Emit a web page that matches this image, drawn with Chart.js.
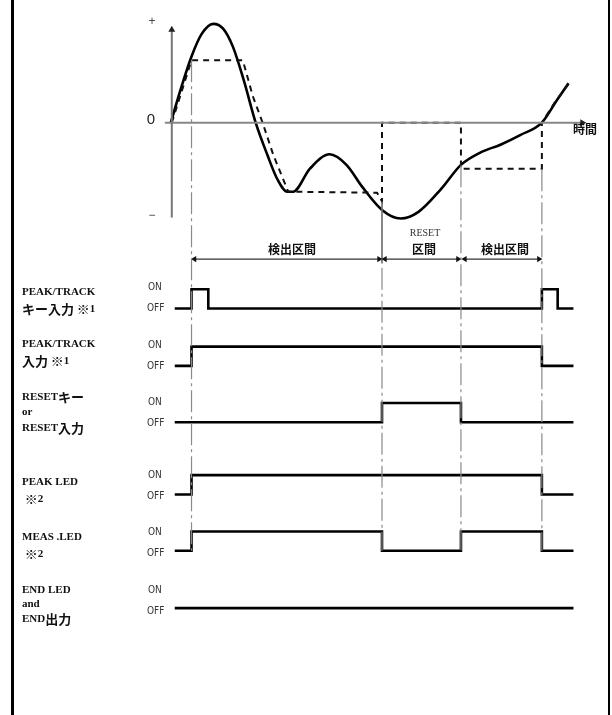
<!DOCTYPE html>
<html><head><meta charset="utf-8">
<script src="https://cdn.jsdelivr.net/npm/chart.js@4"></script>
<style>html,body{margin:0;padding:0;background:#fff}canvas{display:block}</style>
</head><body>
<canvas id="c" width="612" height="715"></canvas>
<script>
// ---------------- data ----------------
// time axis (arbitrary units); events where the timing lines are drawn
const eventTimes = [20, 213, 293, 375];
// measured waveform (solid curve)
const curveT = [-1, 10, 20, 30, 42, 52, 62, 73, 85, 97, 107, 117, 123, 140, 160, 177, 193, 213, 232, 250, 273, 293, 313, 333, 353, 375, 390, 402];
const curveV = [0, 38, 69, 92, 103, 98, 79, 44, 0, -34, -59, -72, -72, -48, -33, -44, -67, -91, -100, -93, -69, -44, -31, -23, -13, 0, 23, 41];
// held value (dashed line)
const holdT = [0, 20, 72, 82, 92, 103, 118, 208, 213, 213, 293, 293, 375, 375, 388, 404];
const holdV = [0, 65, 65, 28, 0, -34, -72, -73, -82, 0, 0, -48, -48, 0, 21, 43];
// interval labels
const intervalLabels = ["検出区間", "区間", "検出区間"];
// digital signals: transition times and levels (0 = OFF, 1 = ON)
const signalLabels = [
  ["PEAK/TRACK", "キー入力 ※1"],
  ["PEAK/TRACK", "入力 ※1"],
  ["RESETキー", "or", "RESET入力"],
  ["PEAK LED", " ※2"],
  ["MEAS .LED", " ※2"],
  ["END LED", "and", "END出力"]
];
const sigPeakKeyT = [3, 20, 37, 375, 391, 407];
const sigPeakKeyL = [0, 1, 0, 1, 0, 0];
const sigPeakInT = [3, 20, 375, 407];
const sigPeakInL = [0, 1, 0, 0];
const sigResetT = [3, 213, 293, 407];
const sigResetL = [0, 1, 0, 0];
const sigPeakLedT = [3, 20, 375, 407];
const sigPeakLedL = [0, 1, 0, 0];
const sigMeasLedT = [3, 20, 213, 293, 375, 407];
const sigMeasLedL = [0, 1, 0, 1, 0, 0];
const sigEndT = [3, 407];
const sigEndL = [0, 0];
const signals = [
  [sigPeakKeyT, sigPeakKeyL], [sigPeakInT, sigPeakInL], [sigResetT, sigResetL],
  [sigPeakLedT, sigPeakLedL], [sigMeasLedT, sigMeasLedL], [sigEndT, sigEndL]
];

// ---------------- layout (pixels) ----------------
const W = 612, H = 715;
const X0 = 170;              // pixel of time 0
const ZERO_Y = 120, PX_PER_UNIT = 0.97;
const laneOffY = [308, 366, 423, 496, 553, 611];
const laneLabelY = [[292, 309], [344, 361], [397, 412, 428], [482, 499], [537, 554], [590, 604, 619]];
const LANE_H = 19.5;
const eventLineTop = [57, 200, 163, 167];
const eventLineBottom = [553, 553, 553, 553];

const pts = (xs, ys) => xs.map((x, i) => ({x, y: ys[i]}));

const scales = {
  x: {type: 'linear', min: -X0, max: W - X0, display: false},
  yPx: {type: 'linear', min: 0, max: H, reverse: true, display: false},
  yW: {type: 'linear', min: -(H - ZERO_Y) / PX_PER_UNIT, max: ZERO_Y / PX_PER_UNIT, display: false}
};
laneOffY.forEach((off, i) => {
  scales['L' + i] = {type: 'linear', min: -(H - off) / LANE_H, max: off / LANE_H, display: false};
});

const datasets = [];
// event (dash-dot) lines
eventTimes.forEach((t, i) => {
  datasets.push({data: [{x: t, y: eventLineTop[i]}, {x: t, y: eventLineBottom[i]}], yAxisID: 'yPx',
    borderColor: '#8a8a8a', borderWidth: 1.2, borderDash: [22, 4, 3, 4], pointRadius: 0, tension: 0});
});
// solid part of RESET boundary
datasets.push({data: [{x: eventTimes[1], y: 200}, {x: eventTimes[1], y: 262}], yAxisID: 'yPx',
  borderColor: '#333', borderWidth: 1.2, pointRadius: 0});
// y axis with arrow
datasets.push({data: [{x: 0, y: 216}, {x: 0, y: 26}], yAxisID: 'yPx', borderColor: '#777', borderWidth: 2,
  pointRadius: [0, 4], pointStyle: 'triangle', pointRotation: 0, pointBackgroundColor: '#222', pointBorderWidth: 0});
// time axis (zero line) with arrow
datasets.push({data: [{x: -7, y: 0}, {x: 416, y: 0}], yAxisID: 'yW', borderColor: '#888', borderWidth: 2,
  pointRadius: [0, 4], pointStyle: 'triangle', pointRotation: 90, pointBackgroundColor: '#222', pointBorderWidth: 0});
// hold line
datasets.push({data: pts(holdT, holdV), yAxisID: 'yW', borderColor: '#111', borderWidth: 2,
  borderDash: [6, 5], pointRadius: 0, tension: 0});
// waveform
datasets.push({data: pts(curveT, curveV), yAxisID: 'yW', borderColor: '#000', borderWidth: 2.6,
  pointRadius: 0, cubicInterpolationMode: 'monotone'});
// interval arrows
const arrowSpans = [[eventTimes[0] + 3, eventTimes[1] - 3], [eventTimes[1] + 3, eventTimes[2] - 3], [eventTimes[2] + 4, eventTimes[3] - 3]];
arrowSpans.forEach(([a, b]) => {
  datasets.push({data: [{x: a, y: 258}, {x: b, y: 258}], yAxisID: 'yPx', borderColor: '#333', borderWidth: 1.3,
    pointRadius: 3.5, pointStyle: 'triangle', pointRotation: [-90, 90], pointBackgroundColor: '#111',
    pointBorderColor: '#111', pointBorderWidth: 0});
});
// signals
signals.forEach(([ts, ls], i) => {
  datasets.push({data: pts(ts, ls), yAxisID: 'L' + i, stepped: 'before', borderColor: '#000',
    borderWidth: 2.6, pointRadius: 0});
});

const LAT = "bold 11px 'Liberation Serif', serif";
const CJK13 = "bold 13px 'Noto Sans CJK JP', sans-serif";
const CJK = "bold 12px 'Noto Sans CJK JP', sans-serif";
const ONOFF = "10px 'Liberation Sans Narrow', 'DejaVu Sans Condensed', sans-serif";

const textPlugin = {
  id: 'texts',
  afterDraw(chart) {
    const ctx = chart.ctx;
    ctx.save();
    ctx.textBaseline = 'middle';
    const put = (s, x, y, font, align, color) => {
      ctx.font = font; ctx.textAlign = align || 'left'; ctx.fillStyle = color || '#111';
      ctx.fillText(s, x, y);
    };
    // mixed Latin / CJK label, drawn run by run
    const putMixed = (s, x, y) => {
      const runs = s.match(/[\u3000-\u9fff\uff00-\uffef\u203b]+|[^\u3000-\u9fff\uff00-\uffef\u203b]+/g) || [];
      ctx.textAlign = 'left'; ctx.fillStyle = '#111';
      let cx = x;
      runs.forEach(r => {
        const cjk = /[\u3000-\u9fff\uff00-\uffef\u203b]/.test(r);
        ctx.font = cjk ? CJK13 : LAT;
        ctx.fillText(r, cx, y + (cjk ? 0 : 0.5));
        cx += ctx.measureText(r).width;
      });
    };
    // frame
    ctx.fillStyle = '#000';
    ctx.fillRect(11, 0, 3, H);
    ctx.fillRect(608, 0, 2, H);
    // axis marks
    put('+', 152, 22, "12px 'Liberation Sans', sans-serif", 'center', '#444');
    put('0', 151, 120, "15px 'Liberation Sans', sans-serif", 'center', '#222');
    put('−', 152, 216, "12px 'Liberation Sans', sans-serif", 'center', '#444');
    put('時間', 573, 129, CJK, 'left', '#111');
    // interval labels
    put(intervalLabels[0], 292, 249, CJK, 'center');
    put('RESET', 425, 233, "10px 'Liberation Serif', serif", 'center', '#333');
    put(intervalLabels[1], 424, 249, CJK, 'center');
    put(intervalLabels[2], 505, 249, CJK, 'center');
    // lane labels
    signalLabels.forEach((lines, i) => {
      lines.forEach((s, j) => putMixed(s, 22, laneLabelY[i][j]));
      const off = laneOffY[i];
      put('ON', 148, off - LANE_H - 1, ONOFF, 'left', '#333');
      put('OFF', 147, off, ONOFF, 'left', '#333');
    });
    ctx.restore();
  }
};

new Chart(document.getElementById('c'), {
  type: 'line',
  data: {datasets},
  options: {
    responsive: false, animation: false,
    layout: {padding: 0},
    scales,
    plugins: {legend: {display: false}, tooltip: {enabled: false}},
    elements: {line: {fill: false}},
  },
  plugins: [textPlugin]
});
</script>
</body></html>
